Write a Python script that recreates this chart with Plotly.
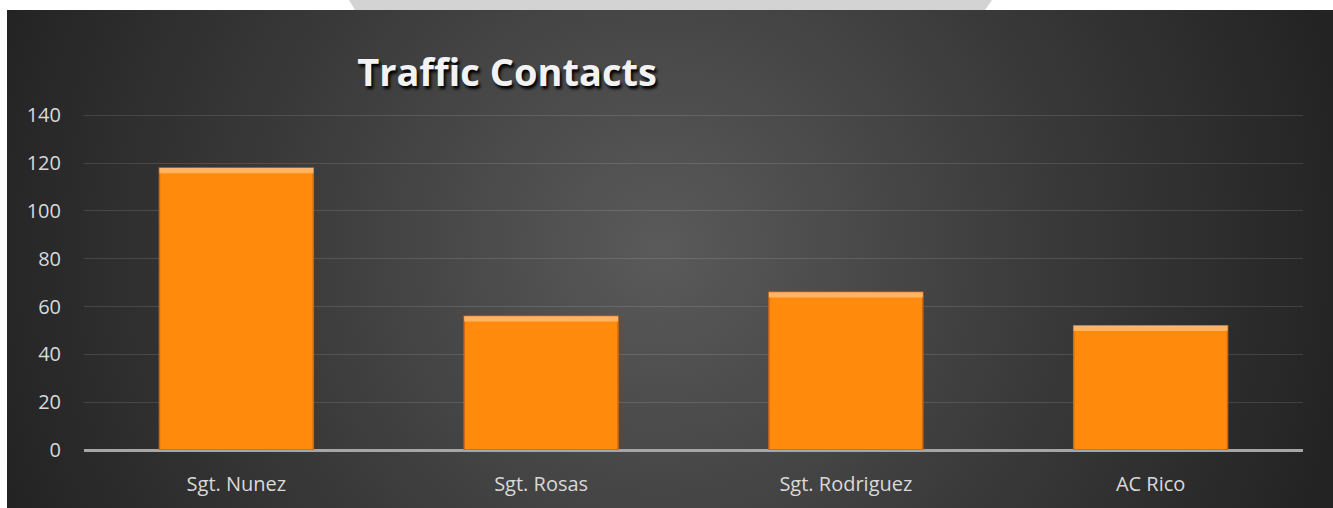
import base64
import plotly.graph_objects as go

# ---- data ----
categories = ["Sgt. Nunez", "Sgt. Rosas", "Sgt. Rodriguez", "AC Rico"]
values = [118, 56, 66, 52]
y_ticks = [0, 20, 40, 60, 80, 100, 120, 140]
title_text = "Traffic Contacts"

W, H = 1333, 508
L, R, T, B = 84, 30, 113, 58
pw, ph = W - L - R, H - T - B

# ---- background (white page, grey tab, dark radial panel) ----
svg = f"""<svg xmlns='http://www.w3.org/2000/svg' width='{W}' height='{H}' viewBox='0 0 {W} {H}'>
<defs><radialGradient id='g' gradientUnits='userSpaceOnUse' cx='660' cy='250' r='700'>
<stop offset='0' stop-color='#5a5a5a'/><stop offset='0.55' stop-color='#3a3a3a'/><stop offset='1' stop-color='#232323'/>
</radialGradient></defs>
<rect x='0' y='0' width='{W}' height='{H}' fill='#ffffff'/>
<polygon points='349,0 992,0 985,10 355,10' fill='#d3d3d3'/>
<rect x='7' y='10' width='{W-7}' height='{H-10}' fill='url(#g)'/>
</svg>"""
src = "data:image/svg+xml;base64," + base64.b64encode(svg.encode()).decode()

fig = go.Figure()

fig.add_trace(go.Bar(
    x=categories, y=values,
    marker=dict(color="#ff8a0c", line=dict(color="#c9681a", width=1.5)),
    hoverinfo="skip",
))
# top highlight strip (bevel look)
strip = 2.2
fig.add_trace(go.Bar(
    x=categories, y=[strip] * len(values), base=[v - strip for v in values],
    marker=dict(color="#ffb463", line=dict(width=0)),
    hoverinfo="skip",
))

fig.update_layout(
    width=W, height=H,
    margin=dict(l=L, r=R, t=T, b=B),
    paper_bgcolor="white",
    plot_bgcolor="rgba(0,0,0,0)",
    barmode="overlay",
    bargap=0.495,
    showlegend=False,
    title=dict(
        text=title_text,
        x=507 / W, xref="container", xanchor="center",
        y=1 - 73 / H, yref="container", yanchor="middle",
        font=dict(family="Open Sans", size=38, color="#f2f2f2", weight="bold",
                  shadow="2px 3px 3px #000000"),
    ),
    images=[dict(
        source=src, xref="paper", yref="paper",
        x=-L / pw, y=(ph + T) / ph, sizex=W / pw, sizey=H / ph,
        xanchor="left", yanchor="top", sizing="stretch", layer="below",
    )],
    font=dict(family="Open Sans", color="#d9d9d9"),
)

fig.update_xaxes(
    showgrid=False, showline=False, zeroline=False,
    tickfont=dict(size=20, color="#d9d9d9"),
    ticks="", ticklabelstandoff=20,
)
fig.update_yaxes(
    range=[0, 141], tickvals=y_ticks,
    showgrid=True, gridcolor="rgba(255,255,255,0.12)", gridwidth=1,
    zeroline=True, zerolinecolor="#a6a6a6", zerolinewidth=3,
    showline=False, ticks="",
    tickfont=dict(size=20, color="#d9d9d9"), ticklabelstandoff=22,
)

fig.write_html("out.html", config={"displayModeBar": False},
               post_script="document.body.style.margin='0';")
